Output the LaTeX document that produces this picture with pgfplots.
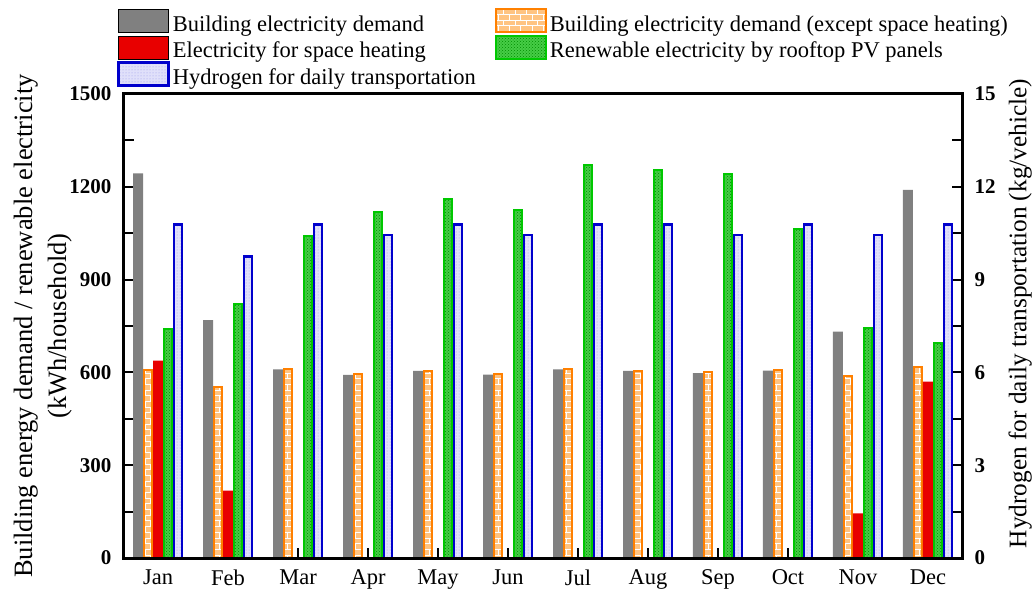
\documentclass[border=0pt]{standalone}
\usepackage{fontspec}
\setmainfont{Liberation Serif}
\usepackage{pgfplots}
\pgfplotsset{compat=1.18}
\usetikzlibrary{patterns}
\definecolor{cgray}{RGB}{128,128,128}
\definecolor{corange}{RGB}{255,128,0}
\definecolor{corfill}{RGB}{255,196,130}
\definecolor{cred}{RGB}{232,0,0}
\definecolor{cgreen}{RGB}{0,200,0}
\definecolor{cgrfill}{RGB}{70,205,70}
\definecolor{cblue}{RGB}{0,0,204}
\definecolor{cblfill}{RGB}{224,224,250}
\pgfplotsset{
  mylegend/.style={legend image code/.code={\draw[##1] (0pt,-8pt) rectangle (50pt,15pt);}},
  sgray/.style={fill=cgray, draw=none},
  sorange/.style={fill=corfill, draw=corange, line width=2pt, postaction={pattern=bricks, pattern color=white}},
  sred/.style={fill=cred, draw=none},
  sgreen/.style={fill=cgrfill, draw=cgreen, line width=2pt, postaction={pattern=crosshatch dots, pattern color=cgreen!70!black}},
  sblue/.style={fill=cblfill, draw=cblue, line width=2.6pt, postaction={pattern=dots, pattern color=cblue!40}},
  base/.style={scale only axis, width=838pt, height=464pt,
    xmin=-0.486, xmax=11.486,
    tick align=inside, major tick length=10pt, minor tick length=10pt,
    every tick/.style={black, line width=2pt},
    /pgf/number format/assume math mode=true,
    /pgf/number format/1000 sep={},
    tick label style={font=\fontsize{21}{24}\selectfont\bfseries},
  },
}
\begin{document}
\begin{tikzpicture}
\begin{axis}[base, name=main,
  ymin=0, ymax=1500, ytick={0,300,...,1500}, minor y tick num=1,
  xtick={0,...,11},
  xticklabels={Jan,Feb,Mar,Apr,May,Jun,Jul,Aug,Sep,Oct,Nov,Dec},
  xticklabel style={font=\fontsize{22.5}{27}\selectfont, yshift=-8pt},
  yticklabel style={xshift=-9pt},
  xtick pos=bottom, ytick pos=left,
  every axis y label/.style={at={(axis description cs:-0.058,0.5)}, rotate=90, anchor=south, align=center, font=\fontsize{26.5}{34}\selectfont},
  ylabel={Building energy demand / renewable electricity\\(kWh/household)},
]
\coordinate (O) at (rel axis cs:0,0);
\addplot[ybar, bar width=10pt, bar shift=-20pt, sgray, forget plot] coordinates {
(0,1243) (1,769) (2,610) (3,592) (4,605) (5,593) (6,610) (7,605) (8,598) (9,606) (10,732) (11,1190)};
\addplot[ybar, bar width=8pt, bar shift=-10pt, sorange, forget plot] coordinates {
(0,608) (1,552) (2,612) (3,595) (4,605) (5,595) (6,612) (7,605) (8,600) (9,608) (10,588) (11,618)};
\addplot[ybar, bar width=10pt, bar shift=0pt, sred, forget plot] coordinates {
(0,638) (1,218) (10,144) (11,570)};
\addplot[ybar, bar width=8pt, bar shift=10pt, sgreen, forget plot] coordinates {
(0,740) (1,820) (2,1042) (3,1120) (4,1160) (5,1125) (6,1270) (7,1255) (8,1241) (9,1065) (10,742) (11,694)};
\end{axis}
\begin{axis}[base, clip=false,
  ymin=0, ymax=15, ytick={0,3,...,15}, minor y tick num=1,
  hide x axis, ytick pos=right,
  yticklabel style={xshift=9pt},
  every axis y label/.style={at={(axis description cs:1.0513,0.527)}, rotate=90, anchor=north, font=\fontsize{25.3}{30}\selectfont},
  ylabel={Hydrogen for daily transportation (kg/vehicle)},
  legend columns=2, legend cell align=left,
  legend style={draw=none, fill=none, inner sep=0pt, at={(axis description cs:0,1)}, anchor=north west,
    xshift=-7pt, yshift=86pt, font=\fontsize{22.5}{27}\selectfont, row sep=1pt,
    /tikz/every even column/.append style={column sep=16pt},
    nodes={inner xsep=3pt, inner ysep=1pt}},
]
\addlegendimage{mylegend, sgray}
\addlegendentry{Building electricity demand}
\addlegendimage{mylegend, sorange}
\addlegendentry{Building electricity demand (except space heating)}
\addlegendimage{mylegend, sred}
\addlegendentry{Electricity for space heating}
\addlegendimage{mylegend, sgreen}
\addlegendentry{Renewable electricity by rooftop PV panels}
\addlegendimage{mylegend, sblue}
\addlegendentry{Hydrogen for daily transportation}
\addplot[ybar, bar width=8pt, bar shift=20pt, sblue, forget plot] coordinates {
(0,10.79) (1,9.75) (2,10.79) (3,10.44) (4,10.79) (5,10.44) (6,10.79) (7,10.79) (8,10.44) (9,10.79) (10,10.44) (11,10.79)};
\draw[line width=3pt, black] (rel axis cs:0,0) rectangle (rel axis cs:1,1);
\end{axis}
\pgfresetboundingbox
\path[use as bounding box] (O) ++(-124pt,-34pt) rectangle ++(1035pt,592pt);
\end{tikzpicture}
\end{document}
